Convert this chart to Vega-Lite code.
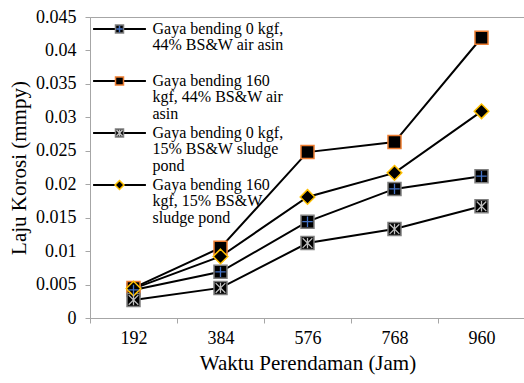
{
  "$schema": "https://vega.github.io/schema/vega-lite/v6.json",
  "width": 435,
  "height": 301,
  "autosize": "none",
  "padding": {"left": 90, "top": 17, "right": 0, "bottom": 65},
  "background": "white",
  "config": {
    "view": {"stroke": "#a6a6a6", "strokeWidth": 1},
    "font": "Liberation Serif",
    "style": {"guide-label": {"lineHeight": 16.4}},
    "legend": {
      "orient": "none", "legendX": 20.5, "legendY": 3, "padding": 0, "title": null,
      "labelFont": "Liberation Serif", "labelFontSize": 16, "labelColor": "black", "labelLimit": 0,
      "symbolSize": 256, "symbolStrokeWidth": 1.5, "labelOffset": 24
    }
  },
  "data": {"values": [
    {"jam": 192, "laju": 0.0042, "seri": "Gaya bending 0 kgf, 44% BS&W air asin"},
    {"jam": 384, "laju": 0.0069, "seri": "Gaya bending 0 kgf, 44% BS&W air asin"},
    {"jam": 576, "laju": 0.0144, "seri": "Gaya bending 0 kgf, 44% BS&W air asin"},
    {"jam": 768, "laju": 0.0193, "seri": "Gaya bending 0 kgf, 44% BS&W air asin"},
    {"jam": 960, "laju": 0.0212, "seri": "Gaya bending 0 kgf, 44% BS&W air asin"},
    {"jam": 192, "laju": 0.0045, "seri": "Gaya bending 160 kgf, 44% BS&W air asin"},
    {"jam": 384, "laju": 0.0105, "seri": "Gaya bending 160 kgf, 44% BS&W air asin"},
    {"jam": 576, "laju": 0.0248, "seri": "Gaya bending 160 kgf, 44% BS&W air asin"},
    {"jam": 768, "laju": 0.0263, "seri": "Gaya bending 160 kgf, 44% BS&W air asin"},
    {"jam": 960, "laju": 0.0419, "seri": "Gaya bending 160 kgf, 44% BS&W air asin"},
    {"jam": 192, "laju": 0.0027, "seri": "Gaya bending 0 kgf, 15% BS&W sludge pond"},
    {"jam": 384, "laju": 0.0045, "seri": "Gaya bending 0 kgf, 15% BS&W sludge pond"},
    {"jam": 576, "laju": 0.0112, "seri": "Gaya bending 0 kgf, 15% BS&W sludge pond"},
    {"jam": 768, "laju": 0.0133, "seri": "Gaya bending 0 kgf, 15% BS&W sludge pond"},
    {"jam": 960, "laju": 0.0167, "seri": "Gaya bending 0 kgf, 15% BS&W sludge pond"},
    {"jam": 192, "laju": 0.0044, "seri": "Gaya bending 160 kgf, 15% BS&W sludge pond"},
    {"jam": 384, "laju": 0.0092, "seri": "Gaya bending 160 kgf, 15% BS&W sludge pond"},
    {"jam": 576, "laju": 0.0181, "seri": "Gaya bending 160 kgf, 15% BS&W sludge pond"},
    {"jam": 768, "laju": 0.0217, "seri": "Gaya bending 160 kgf, 15% BS&W sludge pond"},
    {"jam": 960, "laju": 0.0309, "seri": "Gaya bending 160 kgf, 15% BS&W sludge pond"}
  ]},
  "encoding": {
    "x": {"field": "jam", "type": "ordinal", "scale": {"type": "band", "paddingInner": 0, "paddingOuter": 0},
      "axis": {"title": "Waktu Perendaman (Jam)", "labelAngle": 0, "tickBand": "extent", "labelPadding": 6, "titlePadding": 5, "grid": false,
        "labelFont": "Liberation Serif", "titleFont": "Liberation Serif", "labelFontSize": 18, "titleFontSize": 21, "labelColor": "black", "titleColor": "black", "titleFontWeight": "normal", "domainColor": "#a6a6a6", "tickColor": "#a6a6a6", "tickSize": 5}},
    "y": {"field": "laju", "type": "quantitative", "scale": {"domain": [0, 0.045], "nice": false},
      "axis": {"title": "Laju Korosi (mmpy)", "values": [0, 0.005, 0.01, 0.015, 0.02, 0.025, 0.03, 0.035, 0.04, 0.045], "format": ".3~f", "labelPadding": 9, "titlePadding": 6, "grid": false,
        "labelFont": "Liberation Serif", "titleFont": "Liberation Serif", "labelFontSize": 18, "titleFontSize": 21, "labelColor": "black", "titleColor": "black", "titleFontWeight": "normal", "domainColor": "#a6a6a6", "tickColor": "#a6a6a6", "tickSize": 5}}
  },
  "layer": [
    {
      "mark": {"type": "line", "strokeWidth": 2},
      "encoding": {
        "stroke": {"field": "seri", "type": "nominal", "sort": null,
          "scale": {"range": ["black", "black", "black", "black"]},
          "legend": {"symbolType": "M-3.3,0H3.3", "symbolStrokeColor": "black", "symbolStrokeWidth": 2, "symbolSize": 256,
            "labelExpr": "datum.label == 'Gaya bending 0 kgf, 44% BS&W air asin' ? ['Gaya bending 0 kgf,', '44% BS&W air asin', ''] : datum.label == 'Gaya bending 160 kgf, 44% BS&W air asin' ? ['Gaya bending 160', 'kgf, 44% BS&W air', 'asin'] : datum.label == 'Gaya bending 0 kgf, 15% BS&W sludge pond' ? ['Gaya bending 0 kgf,', '15% BS&W sludge', 'pond'] : ['Gaya bending 160', 'kgf, 15% BS&W', 'sludge pond']"}}
      }
    },
    {
      "mark": {"type": "point", "fill": "black", "strokeWidth": 1.5, "opacity": 1, "size": 676},
      "encoding": {
        "shape": {"field": "seri", "type": "nominal", "sort": null,
          "scale": {"range": ["M-0.5,-0.5H0.5V0.5H-0.5Z", "M-0.5,-0.5H0.5V0.5H-0.5Z", "M-0.5,-0.5H0.5V0.5H-0.5Z", "M0,-0.56L0.56,0L0,0.56L-0.56,0Z"]},
          "legend": {"symbolFillColor": "black", "symbolOpacity": 1, "symbolSize": 256, "labelColor": "transparent",
            "labelExpr": "datum.label == 'Gaya bending 0 kgf, 44% BS&W air asin' ? ['Gaya bending 0 kgf,', '44% BS&W air asin', ''] : datum.label == 'Gaya bending 160 kgf, 44% BS&W air asin' ? ['Gaya bending 160', 'kgf, 44% BS&W air', 'asin'] : datum.label == 'Gaya bending 0 kgf, 15% BS&W sludge pond' ? ['Gaya bending 0 kgf,', '15% BS&W sludge', 'pond'] : ['Gaya bending 160', 'kgf, 15% BS&W', 'sludge pond']"}},
        "stroke": {"field": "seri", "type": "nominal", "sort": null,
          "scale": {"range": ["#7f7f7f", "#ED7D31", "#7f7f7f", "#FFC000"]},
          "legend": {"symbolFillColor": "black", "symbolOpacity": 1, "symbolSize": 256, "labelColor": "transparent",
            "labelExpr": "datum.label == 'Gaya bending 0 kgf, 44% BS&W air asin' ? ['Gaya bending 0 kgf,', '44% BS&W air asin', ''] : datum.label == 'Gaya bending 160 kgf, 44% BS&W air asin' ? ['Gaya bending 160', 'kgf, 44% BS&W air', 'asin'] : datum.label == 'Gaya bending 0 kgf, 15% BS&W sludge pond' ? ['Gaya bending 0 kgf,', '15% BS&W sludge', 'pond'] : ['Gaya bending 160', 'kgf, 15% BS&W', 'sludge pond']"}}
      }
    },
    {
      "mark": {"type": "point", "filled": false, "strokeWidth": 1.3, "opacity": 1, "size": 676},
      "encoding": {
        "shape": {"field": "seri", "type": "nominal", "sort": null,
          "scale": {"range": ["M-0.4,0H0.4M0,-0.4V0.4", "M0,0L0.01,0", "M-0.37,-0.37L0.37,0.37M-0.37,0.37L0.37,-0.37M0,-0.4V0.4", "M0,0L0.01,0"]},
          "legend": {"symbolFillColor": "transparent", "symbolOpacity": 1, "symbolSize": 256, "labelColor": "transparent",
            "labelExpr": "datum.label == 'Gaya bending 0 kgf, 44% BS&W air asin' ? ['Gaya bending 0 kgf,', '44% BS&W air asin', ''] : datum.label == 'Gaya bending 160 kgf, 44% BS&W air asin' ? ['Gaya bending 160', 'kgf, 44% BS&W air', 'asin'] : datum.label == 'Gaya bending 0 kgf, 15% BS&W sludge pond' ? ['Gaya bending 0 kgf,', '15% BS&W sludge', 'pond'] : ['Gaya bending 160', 'kgf, 15% BS&W', 'sludge pond']"}},
        "stroke": {"field": "seri", "type": "nominal", "sort": null,
          "scale": {"range": ["#4472C4", "transparent", "#bfbfbf", "transparent"]},
          "legend": {"symbolFillColor": "transparent", "symbolOpacity": 1, "symbolSize": 256, "labelColor": "transparent",
            "labelExpr": "datum.label == 'Gaya bending 0 kgf, 44% BS&W air asin' ? ['Gaya bending 0 kgf,', '44% BS&W air asin', ''] : datum.label == 'Gaya bending 160 kgf, 44% BS&W air asin' ? ['Gaya bending 160', 'kgf, 44% BS&W air', 'asin'] : datum.label == 'Gaya bending 0 kgf, 15% BS&W sludge pond' ? ['Gaya bending 0 kgf,', '15% BS&W sludge', 'pond'] : ['Gaya bending 160', 'kgf, 15% BS&W', 'sludge pond']"}}
      }
    }
  ],
  "resolve": {
    "scale": {"stroke": "independent", "shape": "independent"},
    "legend": {"stroke": "independent", "shape": "independent"}
  }
}
